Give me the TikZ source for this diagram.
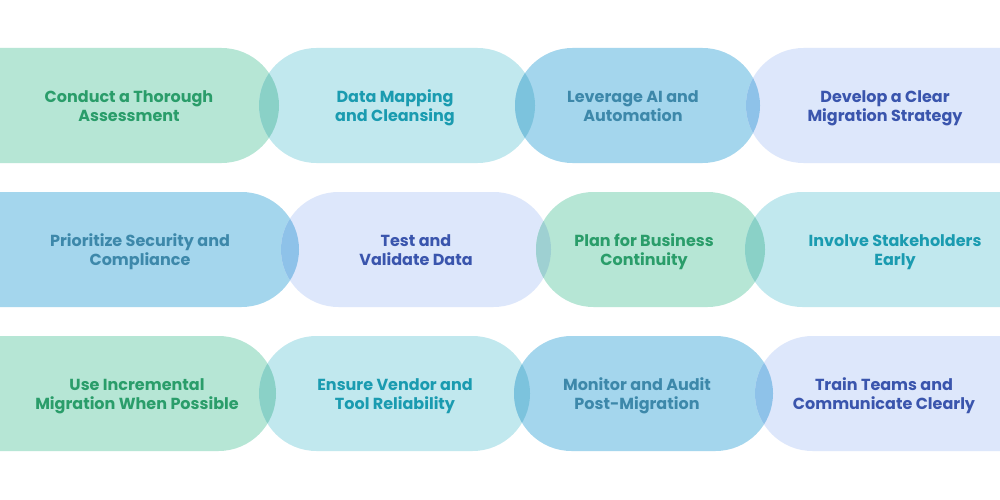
\documentclass[tikz,border=0pt]{standalone}
\usepackage{fontspec}
\setmainfont{Poppins}
\definecolor{pg}{HTML}{B6E6D5}
\definecolor{pc}{HTML}{C1E8EE}
\definecolor{pb}{HTML}{A4D6ED}
\definecolor{pl}{HTML}{DDE7FB}
\definecolor{lgc}{RGB}{138,209,199}
\definecolor{lcb}{RGB}{124,195,221}
\definecolor{lbl}{RGB}{142,194,233}
\definecolor{llg}{RGB}{158,208,210}
\definecolor{tg}{HTML}{2A9D6A}
\definecolor{tc}{HTML}{1A9BB0}
\definecolor{tb}{HTML}{3D88AA}
\definecolor{tl}{HTML}{3A55AD}
\newcommand\mypill[5]{\fill[#5, rounded corners=57.5] (#1,#3) rectangle (#2,#4);}
\newcommand\mylens[7]{\begin{scope}\clip[rounded corners=57.5] (#1,#5) rectangle (#2,#6);\fill[#7, rounded corners=57.5] (#3,#5) rectangle (#4,#6);\end{scope}}
\newcommand\twolines[2]{\strut#1\\#2\strut}
\begin{document}
\begin{tikzpicture}[x=1pt,y=-1pt,
  lab/.style={font=\bfseries\fontsize{16}{19}\selectfont, align=center, inner sep=0pt}]
\useasboundingbox (0,0) rectangle (1000,500);
\fill[white] (0,0) rectangle (1000,500);
% Row 1
\mypill{-100}{279}{48}{163}{pg}
\mypill{259}{535}{48}{163}{pc}
\mypill{515}{760}{48}{163}{pb}
\mypill{746}{1100}{48}{163}{pl}
\mylens{-100}{279}{259}{535}{48}{163}{lgc}
\mylens{259}{535}{515}{760}{48}{163}{lcb}
\mylens{515}{760}{746}{1100}{48}{163}{lbl}
% Row 2
\mypill{-100}{299}{192}{307}{pb}
\mypill{281}{551}{192}{307}{pl}
\mypill{536}{765}{192}{307}{pg}
\mypill{745}{1100}{192}{307}{pc}
\mylens{-100}{299}{281}{551}{192}{307}{lbl}
\mylens{281}{551}{536}{765}{192}{307}{llg}
\mylens{536}{765}{745}{1100}{192}{307}{lgc}
% Row 3
\mypill{-100}{276}{336}{451}{pg}
\mypill{259}{530}{336}{451}{pc}
\mypill{514}{773}{336}{451}{pb}
\mypill{755}{1100}{336}{451}{pl}
\mylens{-100}{276}{259}{530}{336}{451}{lgc}
\mylens{259}{530}{514}{773}{336}{451}{lcb}
\mylens{514}{773}{755}{1100}{336}{451}{lbl}
% Labels
\node[lab, text=tg] (a1) at (129,108) {\twolines{Conduct a Thorough}{Assessment}};
\node[lab, text=tc] (a2) at (395,108) {\twolines{Data Mapping}{and Cleansing}};
\node[lab, text=tb] (a3) at (633,108) {\twolines{Leverage AI and}{Automation}};
\node[lab, text=tl] (a4) at (885,108) {\twolines{Develop a Clear}{Migration Strategy}};
\node[lab, text=tb] (b1) at (140,252) {\twolines{Prioritize Security and}{Compliance}};
\node[lab, text=tl] (b2) at (416,252) {\twolines{Test and}{Validate Data}};
\node[lab, text=tg] (b3) at (644,252) {\twolines{Plan for Business}{Continuity}};
\node[lab, text=tc] (b4) at (895,252) {\twolines{Involve Stakeholders}{Early}};
\node[lab, text=tg] (c1) at (137,396) {\twolines{Use Incremental}{Migration When Possible}};
\node[lab, text=tc] (c2) at (395,396) {\twolines{Ensure Vendor and}{Tool Reliability}};
\node[lab, text=tb] (c3) at (637,396) {\twolines{Monitor and Audit}{Post-Migration}};
\node[lab, text=tl] (c4) at (884,396) {\twolines{Train Teams and}{Communicate Clearly}};
\end{tikzpicture}
\end{document}
